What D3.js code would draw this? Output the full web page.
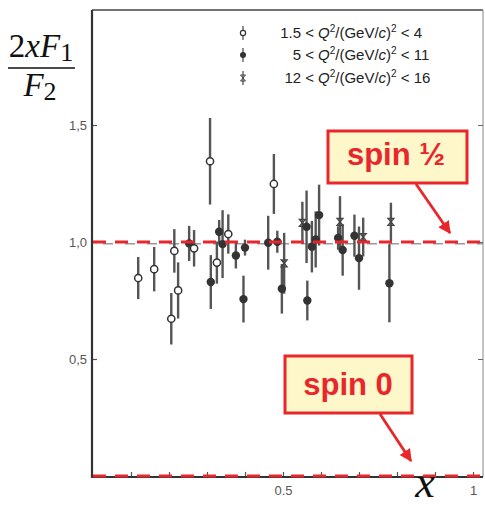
<!DOCTYPE html>
<html><head><meta charset="utf-8">
<script src="https://cdn.jsdelivr.net/npm/d3@7"></script>
<style>html,body{margin:0;padding:0;background:#fff;}svg{display:block;}</style>
</head><body>
<svg id="c" width="485" height="509"></svg>
<script>
// ---- data ----
const openX   = [0.119,0.161,0.206,0.214,0.224,0.266,0.308,0.326,0.356,0.476];
const openY   = [0.846,0.884,0.672,0.962,0.793,0.973,1.345,0.912,1.034,1.248];
const openErr = [0.090,0.095,0.110,0.093,0.120,0.078,0.185,0.090,0.084,0.128];

const fillX   = [0.253,0.310,0.332,0.341,0.376,0.396,0.400,0.461,0.485,0.497,0.562,0.564,0.576,0.586,0.595,0.645,0.657,0.688,0.700,0.780];
const fillY   = [0.994,0.829,1.044,0.991,0.942,0.756,0.976,0.997,1.001,0.800,1.065,0.750,0.980,1.011,1.115,1.017,0.966,1.027,0.931,0.824];
const fillErr = [0.075,0.115,0.050,0.145,0.055,0.100,0.034,0.115,0.047,0.106,0.155,0.085,0.110,0.120,0.130,0.050,0.110,0.090,0.135,0.167];

const crossX   = [0.503,0.551,0.650,0.711,0.784];
const crossY   = [0.909,1.082,1.086,1.021,1.086];
const crossErr = [0.130,0.090,0.110,0.083,0.082];

const yTickValues = [0.5, 1.0, 1.5];
const yTickLabels = ["0,5", "1,0", "1,5"];
const xTickValues = [0.1,0.2,0.3,0.4,0.5,0.6,0.7,0.8,0.9,1.0];
const xTickLabels = {0.5: "0.5", 1: "1"};

const legendPrefix = ["1.5 <", "5 <", "12 <"];
const legendUpper  = ["4", "11", "16"];

const spinHalf = 1.0, spinZero = 0.0, guideOne = 0.992;

// ---- scales ----
const svg = d3.select("#c");
const x = d3.scaleLinear().domain([0, 1]).range([93, 473]);
const y = d3.scaleLinear().domain([0, 1]).range([476, 242]);
const X0 = 92, X1 = 483, Y0 = 10, Y1 = 477;

// frame
svg.append("line").attr("x1", X0).attr("x2", X1).attr("y1", Y0).attr("y2", Y0).attr("stroke", "#444").attr("stroke-width", 1.5);
svg.append("line").attr("x1", X1).attr("x2", X1).attr("y1", Y0).attr("y2", Y1).attr("stroke", "#888").attr("stroke-width", 1);

// axes
const yAxis = d3.axisLeft(y).tickValues(yTickValues).tickSize(-5).tickPadding(5)
  .tickFormat((d, i) => yTickLabels[i]);
const gy = svg.append("g").attr("transform", `translate(${X0},0)`).call(yAxis);
gy.select(".domain").remove();
gy.selectAll(".tick line").attr("stroke", "#555").attr("stroke-width", 1.2);
gy.selectAll("text").attr("fill", "#555").style("font", "13px 'Liberation Sans', Arial, sans-serif");

const yAxisR = d3.axisRight(y).tickValues(yTickValues).tickSize(-5).tickFormat("");
const gyr = svg.append("g").attr("transform", `translate(${X1},0)`).call(yAxisR);
gyr.select(".domain").remove();
gyr.selectAll(".tick line").attr("stroke", "#666");

const xAxis = d3.axisBottom(x).tickValues(xTickValues).tickSize(-5).tickPadding(9)
  .tickFormat(d => xTickLabels[Math.round(d * 10) / 10] || "");
const gx = svg.append("g").attr("transform", `translate(0,${Y1})`).call(xAxis);
gx.select(".domain").remove();
gx.selectAll(".tick line").attr("stroke", "#555").attr("stroke-width", 1.2);
gx.selectAll("text").attr("fill", "#555").style("font", "13px 'Liberation Sans', Arial, sans-serif");

svg.append("line").attr("x1", X0).attr("x2", X0).attr("y1", Y0).attr("y2", Y1 + 1).attr("stroke", "#333").attr("stroke-width", 2.2);
svg.append("line").attr("x1", X0).attr("x2", X1).attr("y1", Y1).attr("y2", Y1).attr("stroke", "#333").attr("stroke-width", 2);

// gray guide line of original figure
svg.append("line").attr("x1", X0).attr("x2", X1).attr("y1", y(guideOne)).attr("y2", y(guideOne))
  .attr("stroke", "#999").attr("stroke-width", 1.5).attr("stroke-dasharray", "10,12").attr("stroke-dashoffset", 11);

// ---- data marks ----
const mk = (xs, ys, es) => xs.map((v, i) => ({x: v, y: ys[i], e: es[i]}));
const openData = mk(openX, openY, openErr);
const fillData = mk(fillX, fillY, fillErr);
const crossData = mk(crossX, crossY, crossErr);

const gData = svg.append("g");
function errBars(data) {
  gData.selectAll(null).data(data).enter().append("line")
    .attr("x1", d => x(d.x)).attr("x2", d => x(d.x))
    .attr("y1", d => y(d.y + d.e)).attr("y2", d => y(d.y - d.e))
    .attr("stroke", "#555").attr("stroke-width", 2.4);
}
errBars(openData); errBars(fillData); errBars(crossData);

const crossPath = "M-3,-3.5L3,-3.5L-3,3.5L3,3.5Z";
gData.selectAll(null).data(crossData).enter().append("path")
  .attr("transform", d => `translate(${x(d.x)},${y(d.y)})`).attr("d", crossPath)
  .attr("fill", "none").attr("stroke", "#444").attr("stroke-width", 1.3);
gData.selectAll(null).data(fillData).enter().append("circle")
  .attr("cx", d => x(d.x)).attr("cy", d => y(d.y)).attr("r", 4.2).attr("fill", "#333");
gData.selectAll(null).data(openData).enter().append("circle")
  .attr("cx", d => x(d.x)).attr("cy", d => y(d.y)).attr("r", 3.6)
  .attr("fill", "#fff").attr("stroke", "#333").attr("stroke-width", 1.5);

// ---- red dashed spin lines ----
[spinHalf, spinZero].forEach(v => {
  svg.append("line").attr("x1", X0 + 1).attr("x2", 485).attr("y1", y(v)).attr("y2", y(v))
    .attr("stroke", "#e8262b").attr("stroke-width", 3.2).attr("stroke-dasharray", "13,9");
});

// ---- legend ----
const legY = [33, 55, 78];
const lg = svg.append("g");
legY.forEach((ly, i) => {
  lg.append("line").attr("x1", 243).attr("x2", 243).attr("y1", ly - 7).attr("y2", ly + 7).attr("stroke", "#555").attr("stroke-width", 1.3);
  if (i === 0) lg.append("circle").attr("cx", 243).attr("cy", ly).attr("r", 2.6).attr("fill", "#fff").attr("stroke", "#333").attr("stroke-width", 1.2);
  if (i === 1) lg.append("circle").attr("cx", 243).attr("cy", ly).attr("r", 3).attr("fill", "#333");
  if (i === 2) lg.append("path").attr("transform", `translate(243,${ly})`).attr("d", "M-2.5,-3L2.5,-3L-2.5,3L2.5,3Z").attr("fill", "none").attr("stroke", "#444").attr("stroke-width", 1);
  lg.append("text").attr("x", 314).attr("y", ly + 5).attr("text-anchor", "end")
    .style("font", "15px 'Liberation Sans', Arial, sans-serif").attr("fill", "#222").text(legendPrefix[i]);
  const t = lg.append("text").attr("x", 318).attr("y", ly + 5)
    .style("font", "15px 'Liberation Sans', Arial, sans-serif").attr("fill", "#222");
  t.append("tspan").attr("font-style", "italic").text("Q");
  t.append("tspan").attr("font-size", "10px").attr("dy", -6).text("2");
  t.append("tspan").attr("dy", 6).text("/(GeV/");
  t.append("tspan").attr("font-style", "italic").text("c");
  t.append("tspan").text(")");
  t.append("tspan").attr("font-size", "10px").attr("dy", -6).text("2");
  t.append("tspan").attr("dy", 6).text(" < " + legendUpper[i]);
});

// ---- y label (fraction) ----
const serif = "'Liberation Serif', 'Times New Roman', serif";
const num = svg.append("text").attr("x", 41).attr("y", 57).attr("text-anchor", "middle")
  .style("font-family", serif).style("font-size", "33px").attr("fill", "#111");
num.append("tspan").text("2");
num.append("tspan").attr("font-style", "italic").text("xF");
num.append("tspan").attr("font-size", "26px").attr("dy", 4).text("1");
svg.append("line").attr("x1", 8).attr("x2", 75).attr("y1", 68).attr("y2", 68).attr("stroke", "#111").attr("stroke-width", 1.6);
const den = svg.append("text").attr("x", 40).attr("y", 96).attr("text-anchor", "middle")
  .style("font-family", serif).style("font-size", "33px").attr("fill", "#111");
den.append("tspan").attr("font-style", "italic").text("F");
den.append("tspan").attr("font-size", "26px").attr("dy", 4).text("2");

// x label
svg.append("text").attr("x", 425).attr("y", 497).attr("text-anchor", "middle")
  .style("font-family", serif).style("font-size", "44px").style("font-style", "italic").attr("fill", "#111").text("x");

// ---- annotations ----
const defs = svg.append("defs");
defs.append("marker").attr("id", "ah").attr("viewBox", "0 0 10 10").attr("refX", 9).attr("refY", 5)
  .attr("markerWidth", 4.5).attr("markerHeight", 4.5).attr("orient", "auto")
  .append("path").attr("d", "M0,0L10,5L0,10Z").attr("fill", "#e8262b");

function note(bx, by, bw, bh, label, tx, ty, ax1, ay1, ax2, ay2) {
  svg.append("line").attr("x1", ax1).attr("y1", ay1).attr("x2", ax2).attr("y2", ay2)
    .attr("stroke", "#e8262b").attr("stroke-width", 2.8).attr("marker-end", "url(#ah)");
  svg.append("rect").attr("x", bx).attr("y", by).attr("width", bw).attr("height", bh)
    .attr("fill", "#fdf7c9").attr("stroke", "#e8262b").attr("stroke-width", 3);
  svg.append("text").attr("x", tx).attr("y", ty).attr("text-anchor", "middle")
    .style("font", "bold 31px 'Liberation Sans', Arial, sans-serif").attr("fill", "#e8262b").text(label);
}
note(328, 131, 139, 52, "spin ½", 396, 165, 416, 184, 450, 233);
note(285, 356, 127, 57, "spin 0", 348, 395, 380, 414, 411, 461);
</script>
</body></html>
